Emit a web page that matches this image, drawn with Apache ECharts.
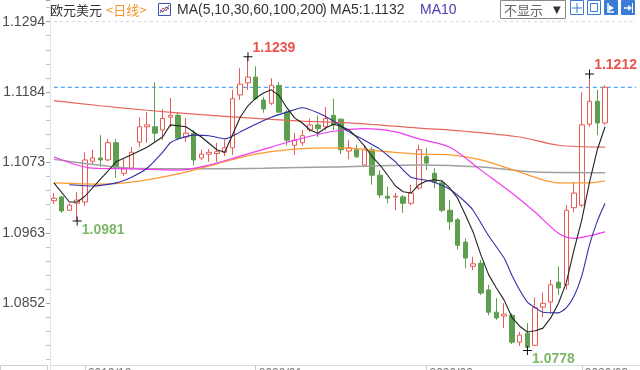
<!DOCTYPE html>
<html><head><meta charset="utf-8">
<script src="https://cdn.jsdelivr.net/npm/echarts@6/dist/echarts.min.js"></script>
<style>html,body{margin:0;padding:0;background:#fff}#c{width:640px;height:370px}</style>
</head><body><div id="c"></div>
<script>
// trading days (categories); the last 4 are empty slots on the right
const categories = [
 '2019/11/26','2019/11/27','2019/11/28','2019/11/29',
 '2019/12/02','2019/12/03','2019/12/04','2019/12/05','2019/12/06',
 '2019/12/09','2019/12/10','2019/12/11','2019/12/12','2019/12/13',
 '2019/12/16','2019/12/17','2019/12/18','2019/12/19','2019/12/20',
 '2019/12/23','2019/12/24','2019/12/25','2019/12/26','2019/12/27',
 '2019/12/30','2019/12/31',
 '2020/01/02','2020/01/03','2020/01/06','2020/01/07','2020/01/08','2020/01/09','2020/01/10',
 '2020/01/13','2020/01/14','2020/01/15','2020/01/16','2020/01/17',
 '2020/01/20','2020/01/21','2020/01/22','2020/01/23','2020/01/24',
 '2020/01/27','2020/01/28','2020/01/29','2020/01/30','2020/01/31',
 '2020/02/03','2020/02/04','2020/02/05','2020/02/06','2020/02/07',
 '2020/02/10','2020/02/11','2020/02/12','2020/02/13','2020/02/14',
 '2020/02/17','2020/02/18','2020/02/19','2020/02/20','2020/02/21',
 '2020/02/24','2020/02/25','2020/02/26','2020/02/27','2020/02/28',
 '2020/03/02','2020/03/03','2020/03/04','2020/03/05',
 '','','',''
];
// [open, close, low, high]
const ohlc = [
 [1.1013,1.1017,1.1008,1.1025],[1.1019,1.0997,1.0994,1.1020],[1.0998,1.1006,1.0997,1.1009],[1.1009,1.1014,1.0981,1.1027],
 [1.1011,1.1077,1.1005,1.1089],[1.1075,1.1080,1.1069,1.1093],[1.1080,1.1077,1.1066,1.1116],[1.1077,1.1104,1.1075,1.1110],
 [1.1104,1.1064,1.1049,1.1110],[1.1056,1.1063,1.1052,1.1080],[1.1064,1.1089,1.1061,1.1097],[1.1105,1.1129,1.1097,1.1144],
 [1.1129,1.1132,1.1104,1.1152],[1.1129,1.1119,1.1105,1.1199],[1.1124,1.1142,1.1108,1.1157],[1.1144,1.1147,1.1129,1.1174],
 [1.1147,1.1111,1.1108,1.1152],[1.1113,1.1119,1.1105,1.1143],[1.1119,1.1077,1.1069,1.1124],[1.1080,1.1086,1.1077,1.1093],
 [1.1086,1.1089,1.1074,1.1094],[1.1087,1.1090,1.1074,1.1104],[1.1089,1.1096,1.1083,1.1108],[1.1096,1.1173,1.1085,1.1187],
 [1.1179,1.1196,1.1171,1.1221],[1.1198,1.1207,1.1187,1.1239],[1.1207,1.1173,1.1171,1.1224],[1.1171,1.1157,1.1151,1.1176],
 [1.1166,1.1194,1.1163,1.1205],[1.1194,1.1152,1.1151,1.1199],[1.1152,1.1108,1.1100,1.1155],[1.1100,1.1108,1.1085,1.1119],
 [1.1104,1.1115,1.1099,1.1124],[1.1124,1.1132,1.1121,1.1142],[1.1132,1.1126,1.1113,1.1147],[1.1129,1.1142,1.1124,1.1160],
 [1.1147,1.1132,1.1124,1.1173],[1.1141,1.1093,1.1086,1.1142],[1.1091,1.1096,1.1078,1.1108],[1.1093,1.1082,1.1080,1.1101],
 [1.1069,1.1093,1.1067,1.1099],[1.1093,1.1053,1.1038,1.1097],[1.1053,1.1022,1.1017,1.1061],[1.1020,1.1017,1.1009,1.1035],
 [1.1019,1.1020,1.0998,1.1025],[1.1019,1.1009,1.0994,1.1022],[1.1009,1.1025,1.1006,1.1038],[1.1033,1.1093,1.1030,1.1101],
 [1.1082,1.1072,1.1061,1.1096],[1.1056,1.1042,1.1033,1.1064],[1.1041,1.0998,1.0995,1.1046],[1.0998,1.0980,1.0967,1.1014],
 [1.0983,1.0943,1.0936,1.0986],[1.0948,1.0923,1.0907,1.0954],[1.0910,1.0914,1.0904,1.0925],[1.0915,1.0868,1.0865,1.0920],
 [1.0873,1.0838,1.0833,1.0881],[1.0838,1.0829,1.0826,1.0860],[1.0832,1.0835,1.0813,1.0852],[1.0833,1.0791,1.0788,1.0836],
 [1.0791,1.0802,1.0785,1.0807],[1.0805,1.0783,1.0778,1.0821],[1.0786,1.0845,1.0785,1.0861],[1.0846,1.0852,1.0830,1.0869],
 [1.0854,1.0881,1.0836,1.0889],[1.0885,1.0876,1.0865,1.0910],[1.0881,1.0998,1.0873,1.1006],[1.1002,1.1025,1.0995,1.1042],
 [1.1006,1.1132,1.1003,1.1183],[1.1133,1.1169,1.1129,1.1212],[1.1169,1.1135,1.1116,1.1187],[1.1135,1.1191,1.1132,1.1194]
];
// moving averages: [day index, value]
const ma5 = [[0,1.1041],[2,1.1011],[3,1.1011],[4,1.1020],[6,1.1047],[7,1.1060],[8,1.1074],[10,1.1085],[12,1.1097],[14,1.1113],
 [15,1.1132],[17,1.1129],[19,1.1113],[21,1.1093],[22,1.1089],[23,1.1116],[24,1.1144],[25,1.1162],[26,1.1174],[27,1.1182],
 [28,1.1187],[29,1.1178],[30,1.1159],[31,1.1143],[32,1.1135],[33,1.1124],[34,1.1119],[35,1.1127],[36,1.1133],[37,1.1130],
 [38,1.1124],[39,1.1113],[40,1.1099],[41,1.1082],[42,1.1069],[43,1.1053],[44,1.1036],[45,1.1027],[46,1.1025],[47,1.1038],
 [48,1.1044],[49,1.1046],[50,1.1044],[51,1.1033],[52,1.1017],[53,1.0991],[54,1.0964],[55,1.0928],[56,1.0897],[57,1.0876],
 [58,1.0857],[59,1.0830],[60,1.0816],[61,1.0807],[62,1.0809],[63,1.0813],[64,1.0829],[65,1.0852],[66,1.0884],[67,1.0936],
 [68,1.0983],[69,1.1042],[70,1.1093],[71,1.1129]];
const ma10 = [[2,1.1038],[5,1.1036],[8,1.1041],[10,1.1050],[12,1.1064],[14,1.1089],[15,1.1104],[16,1.1110],[18,1.1116],
 [20,1.1115],[22,1.1110],[24,1.1121],[26,1.1133],[28,1.1144],[30,1.1152],[32,1.1159],[34,1.1151],[36,1.1138],[38,1.1121],
 [40,1.1108],[42,1.1094],[43,1.1084],[44,1.1074],[45,1.1061],[46,1.1050],[48,1.1045],[49,1.1042],[51,1.1031],[53,1.1011],
 [54,1.0998],[56,1.0958],[58,1.0923],[59,1.0896],[60,1.0873],[61,1.0854],[62,1.0845],[63,1.0838],[65,1.0837],[66,1.0845],
 [67,1.0863],[68,1.0895],[69,1.0944],[70,1.0981],[71,1.1009]];
const ma30 = [[0,1.1082],[5,1.1064],[10,1.1063],[16,1.1061],[20,1.1069],[24,1.1083],[28,1.1097],[31,1.1108],[36,1.1122],
 [40,1.1126],[44,1.1121],[47,1.1110],[51,1.1097],[55,1.1061],[59,1.1025],[62,1.0995],[65,1.0962],[67,1.0954],[69,1.0958],[71,1.0964]];
const ma60 = [[0,1.1041],[6,1.1039],[10,1.1042],[16,1.1055],[21,1.1071],[26,1.1086],[31,1.1094],[37,1.1096],[42,1.1091],
 [47,1.1086],[51,1.1085],[55,1.1077],[60,1.1058],[65,1.1041],[69,1.1041],[71,1.1044]];
const ma100 = [[0,1.1078],[3,1.1073],[10,1.1064],[19,1.1063],[27,1.1064],[36,1.1066],[47,1.1069],[55,1.1066],[62,1.1058],[71,1.1057]];
const ma200 = [[0,1.1170],[6,1.1162],[12,1.1155],[19,1.1148],[25,1.1143],[32,1.1138],[38,1.1135],[47,1.1127],[53,1.1122],
 [60,1.1113],[65,1.1100],[71,1.1097]];
const yTickLabels = ['1.0852','1.0963','1.1073','1.1184','1.1294'];
// extreme markers: [day index, 'high' | 'low']
const extremes = [[25,'high'],[3,'low'],[61,'low'],[69,'high']];

const FONT = '"Liberation Sans", Arial, sans-serif';
const RED = '#e85a52', GREEN = '#5d9f4e';
const chart = echarts.init(document.getElementById('c'), null, {renderer:'canvas'});

const isMonthStart = (i) => {
  const c = categories[i];
  if (!c || i === 0) return false;
  const p = categories[i-1];
  return !!p && p.slice(0,7) !== c.slice(0,7);
};
const lastIdx = categories.length - 1;
const lastClose = ohlc[ohlc.length-1][1];
const topTick = parseFloat(yTickLabels[yTickLabels.length-1]);
const markData = extremes.map(([i,kind]) => {
  const v = kind === 'high' ? ohlc[i][3] : ohlc[i][2];
  const up = kind === 'high';
  return {
    coord:[categories[i], v],
    label:{show:true, formatter:v.toFixed(4), offset: up ? [26,-9] : [26,9],
      color: up ? '#e8554e' : '#7cb86a', fontWeight:'bold', fontSize:14, fontFamily:FONT, position:'inside'}
  };
});
const maLine = (name, data, color, width, smooth) => ({
  type:'line', name, data, symbol:'none', showSymbol:false, smooth:smooth,
  lineStyle:{color, width}, z:5, silent:true
});
const hLine = (value, color, dash, z, w) => ({
  type:'line', data:[[0, value],[lastIdx, value]], symbol:'none', showSymbol:false, silent:true, z:z,
  color:color, itemStyle:{color:color},
  lineStyle:{color, width:w, type:dash, opacity:1}
});

chart.setOption({
  animation:false,
  backgroundColor:'#ffffff',
  grid:{left:50, right:0, top:0, bottom:-3.7, outerBoundsMode:'none', containLabel:false},
  xAxis:{
    type:'category', data:categories, boundaryGap:true, offset:-8.7,
    axisLine:{lineStyle:{color:'#d3dbe3'}},
    axisTick:{show:true, alignWithLabel:true, interval:(i)=>isMonthStart(i), length:6, lineStyle:{color:'#c5cdd5'}},
    axisLabel:{interval:(i)=>isMonthStart(i), formatter:(v)=>v.slice(0,7), align:'left', padding:[0,0,0,3],
      margin:3, color:'#777', fontSize:12, fontFamily:FONT},
    splitLine:{show:false}
  },
  yAxis:{
    type:'value', min:1.07415, max:1.1328, interval:0.01105,
    axisLine:{show:true, lineStyle:{color:'#dde5ed'}},
    axisTick:{show:true, length:4, lineStyle:{color:'#9aa3ad'}},
    minorTick:{show:true, splitNumber:5, length:4, lineStyle:{color:'#b5bcc4'}},
    axisLabel:{color:'#4d4d4d', fontSize:14, margin:5, fontFamily:FONT,
      formatter:(v)=>{ const t = yTickLabels.find(l => Math.abs(parseFloat(l)-v) < 0.0004); return t || ''; }},
    splitLine:{show:false}, minorSplitLine:{show:false}
  },
  series:[
    hLine(topTick, '#d6d6d6', [3,3], 1, 1),
    hLine(lastClose, '#2b8fff', [4,3], 1, 1),
    {
      type:'candlestick', data:ohlc, barWidth:5, z:2,
      itemStyle:{color:'#ffffff', color0:GREEN, borderColor:RED, borderColor0:GREEN, borderWidth:1},
      markPoint:{
        symbol:'path://M0,4H9V5H0Z M4,0H5V9H4Z', symbolSize:9, silent:true, animation:false,
        itemStyle:{color:'#111'},
        data:markData
      }
    },
    maLine('MA200', ma200, '#e8675e', 1.2, 0.3),
    maLine('MA100', ma100, '#a0a0a0', 1.5, 0.3),
    maLine('MA60', ma60, '#ff9a30', 1.3, 0.3),
    maLine('MA30', ma30, '#f03cf0', 1.2, 0.3),
    maLine('MA10', ma10, '#3030a8', 1.1, 0.2),
    maLine('MA5', ma5, '#222222', 1.1, false)
  ],
  graphic:[
    {type:'text', x:50, y:10, style:{text:'欧元美元', font:'13px "Noto Sans CJK SC"', fill:'#333', verticalAlign:'middle'}},
    {type:'text', x:106, y:10, style:{text:'<日线>', font:'13px "Noto Sans CJK SC"', fill:'#f0962a', verticalAlign:'middle'}},
    {type:'rect', shape:{x:158.5,y:3.5,width:12,height:12}, style:{fill:'#fff', stroke:'#3a56b0', lineWidth:1}},
    {type:'polyline', shape:{points:[[160,13],[163,8],[166,11],[169,5]]}, style:{stroke:'#e0403a', lineWidth:1, fill:null}},
    {type:'polyline', shape:{points:[[160,10],[163,12],[166,7],[169,9]]}, style:{stroke:'#3a56b0', lineWidth:1, fill:null}},
    {type:'text', x:177, y:10, style:{text:'MA(5,10,30,60,100,200', font:'14px ' + FONT, fill:'#333', verticalAlign:'middle'}},
    {type:'text', x:322, y:10, style:{text:')', font:'14px ' + FONT, fill:'#333', verticalAlign:'middle'}},
    {type:'text', x:330, y:10, style:{text:'MA5:1.1132', font:'14px ' + FONT, fill:'#333', verticalAlign:'middle'}},
    {type:'text', x:420, y:10, style:{text:'MA10', font:'14px ' + FONT, fill:'#4a3db3', verticalAlign:'middle'}},
    {type:'rect', shape:{x:500.5,y:0.5,width:65,height:18}, style:{fill:'#fff', stroke:'#8a8a8a', lineWidth:1}},
    {type:'text', x:504, y:10, style:{text:'不显示', font:'13px "Noto Sans CJK SC"', fill:'#666', verticalAlign:'middle'}},
    {type:'text', x:553, y:10, style:{text:'▼', font:'10px "DejaVu Sans"', fill:'#333', verticalAlign:'middle'}},
    {type:'rect', shape:{x:570.5,y:0.5,width:13,height:14}, style:{fill:'#fff', stroke:'#3b7bd6', lineWidth:1}},
    {type:'polyline', shape:{points:[[577,3],[577,13]]}, style:{stroke:'#3b7bd6', lineWidth:1}},
    {type:'polyline', shape:{points:[[572,8],[582,8]]}, style:{stroke:'#3b7bd6', lineWidth:1}},
    {type:'rect', shape:{x:587.5,y:0.5,width:13,height:14}, style:{fill:'#fff', stroke:'#3b7bd6', lineWidth:1}},
    {type:'rect', shape:{x:590.5,y:3.5,width:7,height:8}, style:{fill:'none', stroke:'#3b7bd6', lineWidth:1}},
    {type:'rect', shape:{x:604.5,y:0.5,width:13,height:14}, style:{fill:'#3b7bd6', stroke:'#3b7bd6', lineWidth:1}},
    {type:'polyline', shape:{points:[[608,3],[608,12],[614,12]]}, style:{stroke:'#fff', lineWidth:1.5}},
    {type:'polygon', shape:{points:[[609,5],[614,8],[609,11]]}, style:{fill:'#fff'}},
    {type:'rect', shape:{x:621.5,y:0.5,width:13,height:14}, style:{fill:'#3b7bd6', stroke:'#3b7bd6', lineWidth:1}},
    {type:'polyline', shape:{points:[[624,8],[630,8]]}, style:{stroke:'#fff', lineWidth:1.5}},
    {type:'polygon', shape:{points:[[628,5],[632,8],[628,11]]}, style:{fill:'#fff'}},
    {type:'polyline', shape:{points:[[632.5,3],[632.5,13]]}, style:{stroke:'#fff', lineWidth:1}},
    {type:'rect', shape:{x:0.5,y:365.5,width:47,height:8}, style:{fill:'#fff', stroke:'#c8d0d8', lineWidth:1}}
  ]
});
</script>
</body></html>
